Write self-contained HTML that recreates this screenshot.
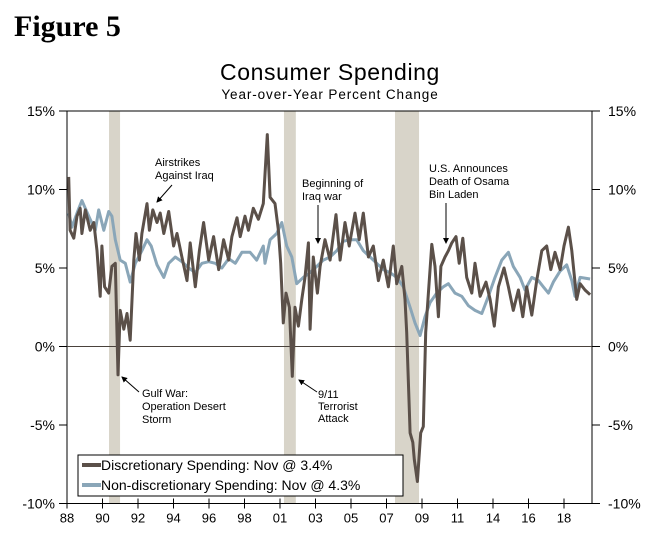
<!DOCTYPE html>
<html><head><meta charset="utf-8">
<style>
html,body{margin:0;padding:0;background:#fff;}
body{width:655px;height:537px;overflow:hidden;font-family:"Liberation Sans",sans-serif;}
</style></head>
<body>
<svg id="chart" width="655" height="537" xmlns="http://www.w3.org/2000/svg" font-family="'Liberation Sans', sans-serif">
<defs><marker id="ah" markerWidth="6" markerHeight="6" refX="5" refY="3" orient="auto"><path d="M0,0 L6,3 L0,6 z" fill="#000"/></marker></defs>
<text x="14" y="36" font-family="'Liberation Serif', serif" font-weight="bold" font-size="30">Figure 5</text>
<text x="330" y="80" text-anchor="middle" font-size="23" letter-spacing="0.6">Consumer Spending</text>
<text x="330" y="99" text-anchor="middle" font-size="13.5" letter-spacing="0.9">Year-over-Year Percent Change</text>
<g id="rec"></g>
<g id="axes"></g>
<g id="series"></g>
<g font-size="11" fill="#000">
 <text x="155" y="166">Airstrikes<tspan x="155" dy="13">Against Iraq</tspan></text>
 <line x1="172" y1="185" x2="157" y2="202" stroke="#000" stroke-width="1" marker-end="url(#ah)"/>
 <text x="142" y="397">Gulf War:<tspan x="142" dy="13">Operation Desert</tspan><tspan x="142" dy="13">Storm</tspan></text>
 <line x1="139" y1="392" x2="122" y2="377" stroke="#000" stroke-width="1" marker-end="url(#ah)"/>
 <text x="302" y="187">Beginning of<tspan x="302" dy="13">Iraq war</tspan></text>
 <line x1="318" y1="205" x2="318" y2="243" stroke="#000" stroke-width="1" marker-end="url(#ah)"/>
 <text x="318" y="398">9/11<tspan x="318" dy="12">Terrorist</tspan><tspan x="318" dy="12">Attack</tspan></text>
 <line x1="317" y1="392" x2="299" y2="380" stroke="#000" stroke-width="1" marker-end="url(#ah)"/>
 <text x="429" y="172">U.S. Announces<tspan x="429" dy="13">Death of Osama</tspan><tspan x="429" dy="13">Bin Laden</tspan></text>
 <line x1="446" y1="203" x2="446" y2="243" stroke="#000" stroke-width="1" marker-end="url(#ah)"/>
</g>
<g>
 <rect x="78" y="455" width="325" height="41" fill="#fff" stroke="#000" stroke-width="1"/>
 <line x1="82" y1="465" x2="101" y2="465" stroke="#5b5049" stroke-width="4"/>
 <text x="101" y="470" font-size="14">Discretionary Spending: Nov @ 3.4%</text>
 <line x1="82" y1="485" x2="101" y2="485" stroke="#8aa6b8" stroke-width="4"/>
 <text x="101" y="490" font-size="14">Non-discretionary Spending: Nov @ 4.3%</text>
</g>
</svg>
<script>
const yTicks=[15,10,5,0,-5,-10];
const xTickLabels=["88","90","92","94","96","98","01","03","05","07","09","11","14","16","18"];
const recessions=[[1990.48,1991.13],[2000.8,2001.5],[2007.35,2008.77]];
const discYears=[1988.10,1988.18,1988.40,1988.59,1988.78,1988.88,1989.08,1989.37,1989.58,1989.77,1989.96,1990.06,1990.22,1990.46,1990.65,1990.85,1991.01,1991.14,1991.35,1991.54,1991.73,1991.94,1992.07,1992.27,1992.42,1992.72,1992.86,1993.06,1993.31,1993.50,1993.71,1994.00,1994.29,1994.49,1994.78,1995.08,1995.27,1995.57,1995.81,1996.06,1996.36,1996.65,1996.95,1997.24,1997.54,1997.73,1998.03,1998.22,1998.50,1998.70,1998.99,1999.29,1999.58,1999.82,1999.98,2000.27,2000.47,2000.61,2000.76,2000.92,2001.12,2001.29,2001.45,2001.65,2001.85,2002.04,2002.24,2002.34,2002.53,2002.77,2002.93,2003.22,2003.52,2003.87,2004.11,2004.40,2004.65,2004.99,2005.24,2005.48,2005.78,2006.07,2006.37,2006.66,2006.96,2007.25,2007.45,2007.75,2007.94,2008.04,2008.24,2008.40,2008.49,2008.67,2008.87,2009.02,2009.16,2009.32,2009.52,2009.71,2009.91,2010.06,2010.30,2010.50,2010.70,2010.95,2011.14,2011.35,2011.58,2011.88,2012.07,2012.37,2012.72,2012.96,2013.21,2013.45,2013.78,2014.04,2014.33,2014.63,2014.89,2015.12,2015.42,2015.71,2016.01,2016.30,2016.54,2016.79,2017.09,2017.32,2017.58,2017.78,2018.07,2018.27,2018.56,2018.86];
const discValues=[10.8,7.4,6.9,8.3,8.8,7.2,8.7,7.4,7.9,6.1,3.2,6.4,3.8,3.4,5.1,5.3,-1.8,2.3,1.1,2.1,0.4,5.5,7.2,5.5,7.2,9.1,7.4,8.7,7.9,8.5,7.2,8.6,6.4,7.2,5.7,4.2,6.6,3.8,6.1,7.9,5.5,7.0,4.9,6.8,5.5,7.0,8.2,7.0,8.3,7.4,8.8,8.1,9.1,13.5,9.5,9.1,7.4,5.3,1.5,3.4,2.5,-1.9,2.5,1.3,3.0,4.4,6.6,1.1,5.7,3.4,5.1,6.8,5.5,8.4,5.5,7.9,6.4,8.5,6.8,8.5,5.7,6.4,4.2,5.5,3.8,6.4,4.0,5.1,3.0,0.9,-5.5,-6.1,-7.2,-8.6,-5.5,-5.1,0.9,3.4,6.5,5.1,1.9,5.1,5.7,6.1,6.6,7.0,5.3,6.9,4.4,3.4,5.3,3.2,4.1,3.0,1.3,3.8,5.0,3.8,2.3,3.6,1.9,3.8,2.0,4.2,6.1,6.4,4.9,6.0,4.9,6.4,7.6,6.1,3.0,4.0,3.6,3.3];
const nondYears=[1988.10,1988.29,1988.59,1988.88,1989.08,1989.37,1989.67,1989.87,1990.17,1990.46,1990.65,1990.85,1991.14,1991.44,1991.73,1992.03,1992.42,1992.72,1992.97,1993.31,1993.71,1994.00,1994.39,1994.78,1995.18,1995.57,1995.96,1996.36,1996.75,1997.14,1997.54,1997.93,1998.32,1998.80,1999.19,1999.58,1999.68,1999.98,2000.37,2000.67,2000.96,2001.26,2001.55,2001.94,2002.34,2002.73,2003.12,2003.52,2003.91,2004.30,2004.70,2005.09,2005.48,2005.88,2006.27,2006.66,2007.06,2007.45,2007.84,2008.24,2008.53,2008.83,2009.12,2009.42,2009.81,2010.20,2010.50,2010.89,2011.29,2011.68,2012.07,2012.47,2012.86,2013.25,2013.65,2014.04,2014.33,2014.73,2015.02,2015.42,2015.81,2016.10,2016.40,2016.69,2017.09,2017.48,2017.78,2017.97,2018.27,2018.86];
const nondValues=[8.5,7.6,8.5,9.3,8.8,8.1,7.4,8.7,7.4,8.6,8.3,6.8,5.5,5.3,4.1,5.3,6.1,6.8,6.4,5.2,4.4,5.3,5.7,5.4,5.0,4.7,5.3,5.4,5.3,5.0,5.6,5.3,6.0,6.0,5.5,6.4,5.3,6.8,7.2,7.9,6.4,5.7,4.0,4.4,4.7,5.1,5.5,5.7,6.1,6.7,6.8,6.8,6.1,5.7,5.3,4.9,4.7,4.4,3.8,2.5,1.5,0.7,1.9,2.8,3.4,3.8,4.0,3.4,3.2,2.6,2.3,2.1,3.2,4.4,5.5,6.0,5.1,4.4,3.6,4.4,4.2,3.8,3.4,4.1,4.8,5.2,4.2,3.2,4.4,4.3];

const NS='http://www.w3.org/2000/svg';
const L=67,R=592,T=111,B=503.5;
const X0=1988.0,PXY=16.95;
function xS(yr){return L+(yr-X0)*PXY;}
function yS(v){return T+(15-v)*(B-T)/25;}
function mk(tag,attrs,parent){const e=document.createElementNS(NS,tag);for(const k in attrs)e.setAttribute(k,attrs[k]);parent.appendChild(e);return e;}
const rec=document.getElementById('rec'),axes=document.getElementById('axes'),ser=document.getElementById('series');
recessions.forEach((r,i)=>{
  const el=mk('rect',{x:xS(r[0]),y:T,width:xS(r[1])-xS(r[0]),height:B-T,fill:'#d8d4c9'},rec);
  
  
});
mk('rect',{x:L,y:T,width:R-L,height:B-T,fill:'none',stroke:'#000','stroke-width':1},axes);
mk('line',{x1:L,y1:yS(0),x2:R,y2:yS(0),stroke:'#4a423c','stroke-width':1},axes);
yTicks.forEach(v=>{
  const y=yS(v);
  mk('line',{x1:L-8,y1:y,x2:L,y2:y,stroke:'#000'},axes);
  mk('line',{x1:R,y1:y,x2:R+8,y2:y,stroke:'#000'},axes);
  const t1=mk('text',{x:55,y:y+5,'text-anchor':'end','font-size':14},axes);t1.textContent=v+'%';
  
  
  const t2=mk('text',{x:608,y:y+5,'font-size':14},axes);t2.textContent=v+'%';
  
  
});
const step=35.5;
xTickLabels.forEach((lab,i)=>{
  const x=L+i*step;
  mk('line',{x1:x,y1:B-5,x2:x,y2:B+5,stroke:'#000'},axes);
  const t=mk('text',{x:x,y:B+19,'text-anchor':'middle','font-size':13},axes);t.textContent=lab;
  
  
});
function line(ys,vs,color,name){
  const d=ys.map((yr,i)=>(i?'L':'M')+xS(yr).toFixed(1)+','+yS(vs[i]).toFixed(1)).join(' ');
  const p=mk('path',{d:d,fill:'none',stroke:color,'stroke-width':3,'stroke-linejoin':'round'},ser);
  
  
}
line(nondYears,nondValues,'#8aa6b8','non-discretionary-line');
line(discYears,discValues,'#5b5049','discretionary-line');
</script>
</body></html>
